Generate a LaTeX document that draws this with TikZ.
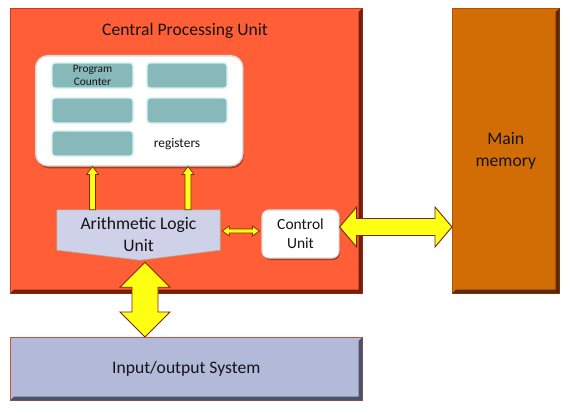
\documentclass[tikz,border=0pt]{standalone}
\usepackage{fontspec}
\setmainfont{Carlito}
\usetikzlibrary{calc,shadows}
\definecolor{cpuorange}{RGB}{255,94,54}
\definecolor{cpuedge}{RGB}{118,30,12}
\definecolor{cpuline}{RGB}{200,60,30}
\definecolor{memfill}{RGB}{210,108,4}
\definecolor{memedge}{RGB}{92,40,0}
\definecolor{memline}{RGB}{180,80,0}
\definecolor{iofill}{RGB}{179,186,217}
\definecolor{ioedge}{RGB}{78,82,104}
\definecolor{ioline}{RGB}{205,80,60}
\definecolor{alufill}{RGB}{206,209,232}
\definecolor{aluline}{RGB}{170,175,150}
\definecolor{regfill}{RGB}{136,185,186}
\definecolor{regedge}{RGB}{205,242,242}
\definecolor{boxline}{RGB}{215,222,222}
\definecolor{arrowfill}{RGB}{255,255,20}
\definecolor{arrowedge}{RGB}{120,40,10}
\definecolor{textdark}{RGB}{20,20,20}
\tikzset{
  bigfont/.style={font=\fontsize{17.6}{22}\selectfont, text=textdark},
  panel/.style={rectangle, anchor=north west, inner sep=0pt, line width=0.6pt},
  cell/.style={rectangle, rounded corners=3pt, fill=regfill, draw=regedge, line width=1.4pt,
               minimum height=25pt, inner sep=0pt},
  fatarrow/.style={fill=arrowfill, draw=arrowedge, line width=0.9pt, line join=miter},
  thinarrow/.style={fill=arrowfill, draw=arrowedge, line width=0.7pt, line join=miter},
}
\begin{document}
\begin{tikzpicture}[x=1pt,y=-1pt]
\useasboundingbox[fill=white] (0,0) rectangle (572,412);

% CPU panel
\node[panel, fill=cpuorange, draw=cpuline, minimum width=352pt, minimum height=285pt] (cpu) at (10,8) {};
\fill[cpuedge] (cpu.north east) -- (cpu.south east) -- (cpu.south west) -- ++(4,-4)
   -- ($(cpu.south east)+(-4,-4)$) -- ($(cpu.north east)+(-4,4)$) -- cycle;
\node[bigfont] (cputitle) at (185,31) {Central Processing Unit};

% Main memory
\node[panel, fill=memfill, draw=memline, minimum width=107pt, minimum height=285pt] (mm) at (452,8) {};
\fill[memedge] (mm.north east) -- (mm.south east) -- (mm.south west) -- ++(4,-4)
   -- ($(mm.south east)+(-4,-4)$) -- ($(mm.north east)+(-4,4)$) -- cycle;
\node[bigfont, align=center] (mmtext) at (mm.center) {Main\\memory};

% I/O system
\node[panel, fill=iofill, draw=ioline, minimum width=352pt, minimum height=63pt] (io) at (10,337) {};
\fill[ioedge] (io.north east) -- (io.south east) -- (io.south west) -- ++(4,-4)
   -- ($(io.south east)+(-4,-4)$) -- ($(io.north east)+(-4,4)$) -- cycle;
\node[bigfont] (iotext) at ($(io.center)+(0,0)$) {Input/output System};

% Registers box
\node[panel, fill=white, draw=boxline, line width=1.5pt, rounded corners=12pt,
      minimum width=207pt, minimum height=110pt,
      drop shadow={opacity=0.55, fill=cpuedge, shadow xshift=1pt, shadow yshift=-2.5pt}] (regs) at (35,55) {};
\node[cell, minimum width=81pt, align=center,
      font=\fontsize{11.4}{13}\selectfont, text=textdark] (r1) at (92.5,75.5) {Program\\Counter};
\node[cell, minimum width=80pt] (r2) at (187,75.5) {};
\node[cell, minimum width=81pt] (r3) at (92.5,110.5) {};
\node[cell, minimum width=80pt] (r4) at (187,110.5) {};
\node[cell, minimum width=81pt] (r5) at (92.5,143.5) {};
\node[font=\fontsize{13.4}{16}\selectfont, text=textdark] (regtext) at (177,144) {registers};

% ALU
\node[rectangle, inner sep=0pt, minimum width=163pt, minimum height=40pt] (alu) at (138.5,230) {};
\filldraw[fill=alufill, draw=aluline, line width=0.6pt]
  (alu.north west) -- (alu.north east) -- (alu.south east) -- ($(alu.south)+(1.5,10)$)
  -- (alu.south west) -- cycle;
\node[bigfont, align=center] (alutext) at ($(alu.center)+(0,4)$) {Arithmetic Logic\\Unit};

% Control unit
\node[rectangle, rounded corners=7pt, fill=white, draw=boxline, line width=1.2pt,
      minimum width=77pt, minimum height=48pt, inner sep=0pt, align=center,
      font=\fontsize{15.5}{19}\selectfont, text=textdark,
      drop shadow={opacity=0.55, fill=cpuedge, shadow xshift=1pt, shadow yshift=-2pt}] (cu) at (300.5,234) {Control\\Unit};

% small up arrows ALU -> registers
\coordinate (u1b) at (r1 |- alu.north);
\coordinate (u1t) at (r1 |- regs.south);
\draw[thinarrow] ($(u1b)+(-3,0)$) -- ($(u1t)+(-3,8)$) -- ($(u1t)+(-6,8)$) -- (u1t)
  -- ($(u1t)+(6,8)$) -- ($(u1t)+(3,8)$) -- ($(u1b)+(3,0)$) -- cycle;
\coordinate (u2b) at ($(r2 |- alu.north)+(1,0)$);
\coordinate (u2t) at ($(r2 |- regs.south)+(1,0)$);
\draw[thinarrow] ($(u2b)+(-3,0)$) -- ($(u2t)+(-3,8)$) -- ($(u2t)+(-6,8)$) -- (u2t)
  -- ($(u2t)+(6,8)$) -- ($(u2t)+(3,8)$) -- ($(u2b)+(3,0)$) -- cycle;

% small double arrow ALU <-> control unit
\coordinate (dl) at ($(alu.east)+(2,1)$);
\coordinate (dr) at ($(cu.west |- dl)+(-2,0)$);
\draw[thinarrow] (dl) -- ++(7,-5) -- ++(0,3) -- ($(dr)+(-7,-2)$) -- ++(0,-3) -- (dr)
  -- ++(-7,5) -- ++(0,-3) -- ($(dl)+(7,2)$) -- ++(0,3) -- cycle;

% big double arrow control unit <-> main memory
\coordinate (hl) at ($(cu.east)+(0,-7)$);
\coordinate (hr) at (mm.west |- hl);
\draw[fatarrow] (hl) -- ++(17,-20) -- ++(0,11.5) -- ($(hr)+(-17,-8.5)$) -- ++(0,-11.5) -- (hr)
  -- ++(-17,20) -- ++(0,-11.5) -- ($(hl)+(17,8.5)$) -- ++(0,11.5) -- cycle;

% big double arrow ALU <-> I/O
\coordinate (vt) at ($(alu.south)+(6.5,12)$);
\coordinate (vb) at (vt |- io.north);
\draw[fatarrow] (vt) -- ++(25,25) -- ++(-12,0) -- ($(vb)+(13,-25)$) -- ++(12,0) -- (vb)
  -- ++(-25,-25) -- ++(12,0) -- ($(vt)+(-13,25)$) -- ++(-12,0) -- cycle;
\end{tikzpicture}
\end{document}
